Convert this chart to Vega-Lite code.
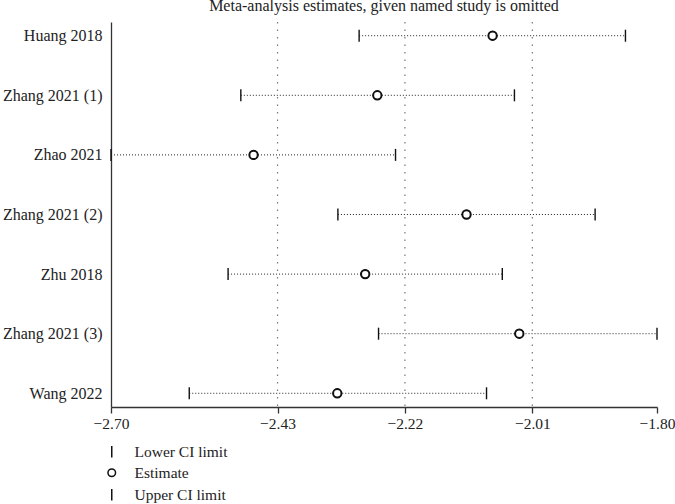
{
  "$schema": "https://vega.github.io/schema/vega-lite/v6.json",
  "width": 546,
  "height": 385,
  "autosize": {"type": "none"},
  "padding": {"left": 111, "top": 22, "right": 18, "bottom": 97},
  "background": "white",
  "title": {
    "text": "Meta-analysis estimates, given named study is omitted",
    "font": "Liberation Serif",
    "fontSize": 16,
    "fontWeight": "normal",
    "color": "#222",
    "anchor": "middle",
    "offset": 7
  },
  "config": {"view": {"stroke": null}, "font": "Liberation Serif"},
  "datasets": {
    "refs": [{"ref": -2.4255}, {"ref": -2.2155}, {"ref": -2.0055}],
    "studies": [
      {"study": "Huang 2018", "lower": -2.291, "estimate": -2.071, "upper": -1.852},
      {"study": "Zhang 2021 (1)", "lower": -2.486, "estimate": -2.261, "upper": -2.035},
      {"study": "Zhao 2021", "lower": -2.700, "estimate": -2.465, "upper": -2.231},
      {"study": "Zhang 2021 (2)", "lower": -2.326, "estimate": -2.114, "upper": -1.902},
      {"study": "Zhu 2018", "lower": -2.507, "estimate": -2.281, "upper": -2.055},
      {"study": "Zhang 2021 (3)", "lower": -2.259, "estimate": -2.027, "upper": -1.800},
      {"study": "Wang 2022", "lower": -2.571, "estimate": -2.327, "upper": -2.081}
    ]
  },
  "layer": [
    {
      "data": {"name": "refs"},
      "mark": {"type": "rule", "strokeDash": [1.5, 6], "color": "#777", "strokeWidth": 1.2},
      "encoding": {
        "x": {
          "field": "ref",
          "type": "quantitative",
          "scale": {"domain": [-2.7, -1.8], "nice": false, "zero": false},
          "axis": {
            "values": [-2.7, -2.4255, -2.2155, -2.0055, -1.8],
            "format": ".2f",
            "title": null,
            "grid": false,
            "tickSize": 6,
            "tickColor": "#333",
            "domainColor": "#333",
            "domainWidth": 1.3,
            "tickWidth": 1.3,
            "labelFontSize": 15.5,
            "labelColor": "#222",
            "labelPadding": 3,
            "labelFlush": false,
            "labelOverlap": false
          }
        }
      }
    },
    {
      "data": {"name": "studies"},
      "mark": {"type": "rule", "strokeDash": [1, 2], "color": "#222", "strokeWidth": 1},
      "encoding": {
        "y": {
          "field": "study",
          "type": "nominal",
          "sort": null,
          "scale": {"type": "point", "padding": 0.23},
          "axis": {
            "title": null,
            "ticks": false,
            "grid": false,
            "domainColor": "#333",
            "domainWidth": 1.3,
            "labelPadding": 9,
            "labelFontSize": 16,
            "labelColor": "#222"
          }
        },
        "x": {"field": "lower", "type": "quantitative"},
        "x2": {"field": "upper"}
      }
    },
    {
      "data": {"name": "studies"},
      "transform": [{"fold": ["lower", "estimate", "upper"], "as": ["type", "value"]}],
      "mark": {"type": "point", "filled": false, "stroke": "#111", "size": 64, "strokeWidth": 1.4, "opacity": 1},
      "encoding": {
        "x": {"field": "value", "type": "quantitative"},
        "y": {"field": "study", "type": "nominal", "sort": null},
        "shape": {
          "field": "type",
          "type": "nominal",
          "scale": {"domain": ["lower", "estimate", "upper"], "range": ["M0,-1.5V1.5", "circle", "M0,-1.5V1.5"]},
          "legend": {
            "orient": "none",
            "legendX": -7,
            "legendY": 422,
            "title": null,
            "labelFontSize": 15.5,
            "labelColor": "#222",
            "labelFont": "Liberation Serif",
            "symbolSize": 58,
            "labelOffset": 15,
            "rowPadding": 4,
            "labelExpr": "datum.label == 'lower' ? 'Lower CI limit' : datum.label == 'estimate' ? 'Estimate' : 'Upper CI limit'",
            "encode": {
              "symbols": {
                "update": {
                  "stroke": {"value": "#111"},
                  "strokeWidth": {"value": 1.8},
                  "fill": {"value": "white"},
                  "fillOpacity": {"value": 1},
                  "opacity": {"value": 1},
                  "strokeOpacity": {"value": 1}
                }
              }
            }
          }
        }
      }
    },
    {
      "data": {"name": "studies"},
      "mark": {"type": "point", "shape": "circle", "filled": false, "fill": "white", "fillOpacity": 1, "stroke": "#111", "opacity": 1, "size": 70, "strokeWidth": 2},
      "encoding": {
        "x": {"field": "estimate", "type": "quantitative"},
        "y": {"field": "study", "type": "nominal", "sort": null}
      }
    }
  ]
}
